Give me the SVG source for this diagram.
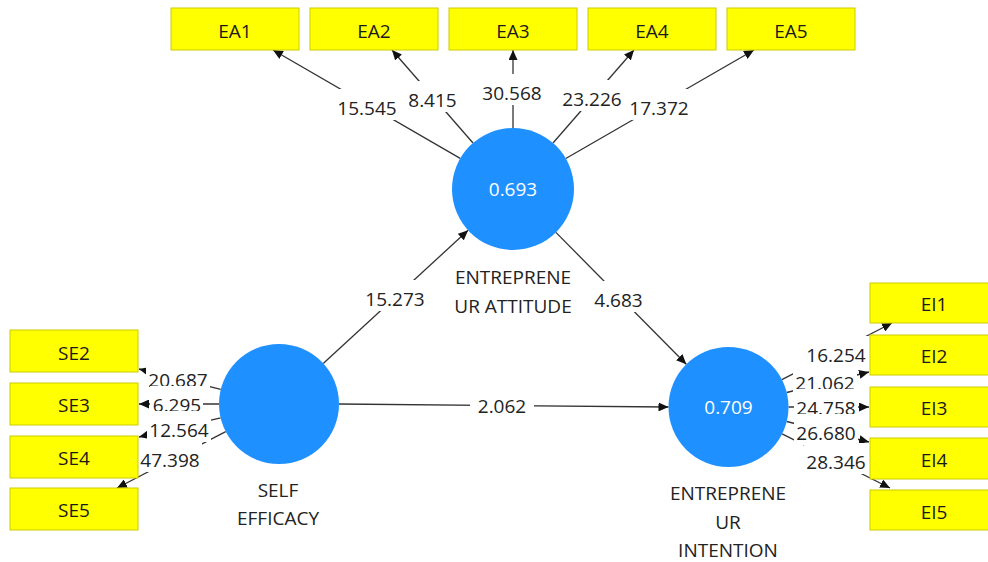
<svg xmlns="http://www.w3.org/2000/svg" width="988" height="562" viewBox="0 0 988 562">
<defs>
<marker id="arr" markerUnits="userSpaceOnUse" markerWidth="11" markerHeight="9" refX="10" refY="4.5" orient="auto">
<path d="M0,0 L10,4.5 L0,9 z" fill="#111"/>
</marker>
<style>
.box{fill:#ffff00;stroke:#cccc00;stroke-width:1}
.bt{font-family:"Open Sans","Noto Sans",sans-serif;font-size:19px;fill:#1a1a1a;text-anchor:middle}
.lv{fill:#1e90ff}
.lt{font-family:"Open Sans","Noto Sans",sans-serif;font-size:19px;fill:#ffffff;text-anchor:middle}
.nl{font-family:"Open Sans","Noto Sans",sans-serif;font-size:19px;fill:#222;text-anchor:middle}
.cn{stroke:#333;stroke-width:1.3;fill:none;marker-end:url(#arr)}
.num{font-family:"Open Sans","Noto Sans",sans-serif;font-size:19px;fill:#222;text-anchor:middle}
.bg{fill:#ffffff}
</style>
</defs>
<rect width="988" height="562" fill="#ffffff"/>

<g id="connectors">
<line class="cn" x1="460.2" y1="158.4" x2="273" y2="50"/>
<line class="cn" x1="473" y1="143" x2="392" y2="50"/>
<line class="cn" x1="513" y1="128" x2="513" y2="50"/>
<line class="cn" x1="553" y1="143" x2="634" y2="50"/>
<line class="cn" x1="565.8" y1="158.5" x2="754" y2="50"/>
<line class="cn" x1="220.8" y1="389.4" x2="139" y2="369"/>
<line class="cn" x1="219" y1="404" x2="139" y2="404"/>
<line class="cn" x1="220.6" y1="417.8" x2="139" y2="437"/>
<line class="cn" x1="225.7" y1="431.6" x2="117" y2="488"/>
<line class="cn" x1="781.9" y1="379.6" x2="892" y2="323"/>
<line class="cn" x1="786.7" y1="392.5" x2="869" y2="372"/>
<line class="cn" x1="788.5" y1="407" x2="869" y2="407"/>
<line class="cn" x1="786.7" y1="421.5" x2="869" y2="442"/>
<line class="cn" x1="782.1" y1="433.9" x2="890" y2="488"/>
<line class="cn" x1="323.2" y1="363.4" x2="468.1" y2="230.3"/>
<line class="cn" x1="555.9" y1="232.4" x2="686.3" y2="364.3"/>
<line class="cn" x1="339" y1="404" x2="668.5" y2="407"/>

<g id="edge-labels">
<rect class="bg" x="335" y="89" width="64" height="31"/><text class="num" x="367" y="115">15.545</text>
<rect class="bg" x="406" y="81" width="53" height="31"/><text class="num" x="432.5" y="107">8.415</text>
<rect class="bg" x="480" y="74" width="64" height="31"/><text class="num" x="512" y="100">30.568</text>
<rect class="bg" x="560" y="80" width="64" height="31"/><text class="num" x="592" y="106">23.226</text>
<rect class="bg" x="627" y="89" width="64" height="31"/><text class="num" x="659" y="115">17.372</text>
<rect class="bg" x="363" y="280" width="64" height="31"/><text class="num" x="395" y="306">15.273</text>
<rect class="bg" x="592" y="281" width="53" height="31"/><text class="num" x="618.5" y="307">4.683</text>
<rect class="bg" x="470" y="387" width="64" height="31"/><text class="num" x="502" y="413">2.062</text>
<rect class="bg" x="146" y="361" width="64" height="31"/><text class="num" x="178" y="387">20.687</text>
<rect class="bg" x="150" y="386" width="53" height="31"/><text class="num" x="177" y="412">6.295</text>
<rect class="bg" x="147" y="411" width="64" height="31"/><text class="num" x="179" y="437">12.564</text>
<rect class="bg" x="138" y="441" width="64" height="31"/><text class="num" x="170" y="467">47.398</text>
<rect class="bg" x="804" y="336" width="64" height="31"/><text class="num" x="836" y="362">16.254</text>
<rect class="bg" x="793" y="364" width="64" height="31"/><text class="num" x="825" y="390">21.062</text>
<rect class="bg" x="794" y="389" width="64" height="31"/><text class="num" x="826" y="415">24.758</text>
<rect class="bg" x="794" y="414" width="64" height="31"/><text class="num" x="826" y="440">26.680</text>
<rect class="bg" x="804" y="443" width="64" height="31"/><text class="num" x="836" y="469">28.346</text>
</g>
</g>

<g id="EA1"><rect class="box" x="171" y="8" width="128" height="42"/><text class="bt" x="235" y="38">EA1</text></g>
<g id="EA2"><rect class="box" x="310" y="8" width="128" height="42"/><text class="bt" x="374" y="38">EA2</text></g>
<g id="EA3"><rect class="box" x="449" y="8" width="128" height="42"/><text class="bt" x="513" y="38">EA3</text></g>
<g id="EA4"><rect class="box" x="588" y="8" width="128" height="42"/><text class="bt" x="652" y="38">EA4</text></g>
<g id="EA5"><rect class="box" x="727" y="8" width="128" height="42"/><text class="bt" x="791" y="38">EA5</text></g>

<g id="SE2"><rect class="box" x="10" y="330" width="128" height="42"/><text class="bt" x="74" y="360">SE2</text></g>
<g id="SE3"><rect class="box" x="10" y="383" width="128" height="42"/><text class="bt" x="74" y="412">SE3</text></g>
<g id="SE4"><rect class="box" x="10" y="436" width="128" height="42"/><text class="bt" x="74" y="465">SE4</text></g>
<g id="SE5"><rect class="box" x="10" y="488" width="128" height="42"/><text class="bt" x="74" y="517">SE5</text></g>

<g id="EI1"><rect class="box" x="870" y="283" width="128" height="40"/><text class="bt" x="934" y="311">EI1</text></g>
<g id="EI2"><rect class="box" x="870" y="335" width="128" height="40"/><text class="bt" x="934" y="363">EI2</text></g>
<g id="EI3"><rect class="box" x="870" y="387" width="128" height="40"/><text class="bt" x="934" y="415">EI3</text></g>
<g id="EI4"><rect class="box" x="870" y="438" width="128" height="41"/><text class="bt" x="934" y="467">EI4</text></g>
<g id="EI5"><rect class="box" x="870" y="490" width="128" height="40"/><text class="bt" x="934" y="519">EI5</text></g>

<g id="ENTREPRENEUR_ATTITUDE">
<circle class="lv" cx="513" cy="189" r="61"/>
<text class="lt" x="513" y="196">0.693</text>
<text class="nl" x="513" y="284">ENTREPRENE</text>
<text class="nl" x="513" y="313">UR ATTITUDE</text>
</g>
<g id="SELF_EFFICACY">
<circle class="lv" cx="279" cy="404" r="60"/>
<text class="nl" x="278" y="497">SELF</text>
<text class="nl" x="278" y="525">EFFICACY</text>
</g>
<g id="ENTREPRENEUR_INTENTION">
<circle class="lv" cx="728.5" cy="407" r="60"/>
<text class="lt" x="728.5" y="414">0.709</text>
<text class="nl" x="728" y="500">ENTREPRENE</text>
<text class="nl" x="728" y="529">UR</text>
<text class="nl" x="728" y="557">INTENTION</text>
</g>
</svg>
